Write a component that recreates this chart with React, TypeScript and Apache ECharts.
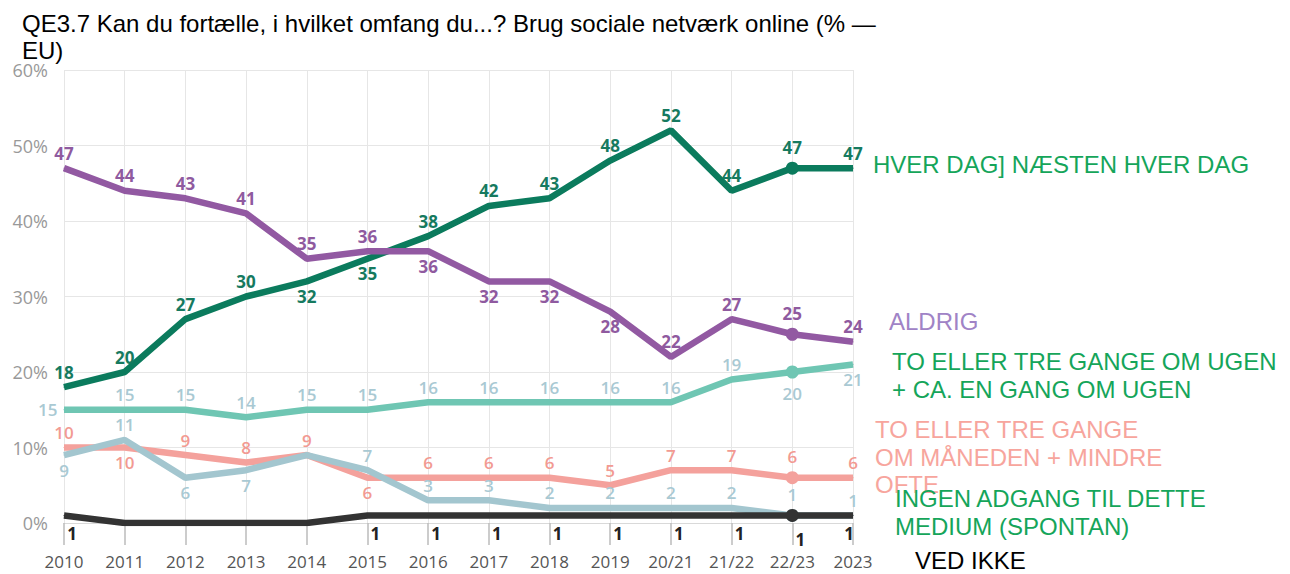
import React, { useEffect, useRef } from "react";
import * as echarts from "echarts";

const categories = ["2010", "2011", "2012", "2013", "2014", "2015", "2016", "2017", "2018", "2019", "20/21", "21/22", "22/23", "2023"];

const hverDag = [18, 20, 27, 30, 32, 35, 38, 42, 43, 48, 52, 44, 47, 47];
const hverDagPos = ["t", "t", "t", "t", "b", "b", "t", "t", "t", "t", "t", "t", "t", "t"];

const aldrig = [47, 44, 43, 41, 35, 36, 36, 32, 32, 28, 22, 27, 25, 24];
const aldrigPos = ["t", "t", "t", "t", "t", "t", "b", "b", "b", "b", "t", "t", "t", "t"];

const ugen = [15, 15, 15, 14, 15, 15, 16, 16, 16, 16, 16, 19, 20, 21];
const ugenPos = ["l", "t", "t", "t", "t", "t", "t", "t", "t", "t", "t", "t", "b", "b"];

const maaned = [10, 10, 9, 8, 9, 6, 6, 6, 6, 5, 7, 7, 6, 6];
const maanedPos = ["t", "b", "t", "t", "t", "b", "t", "t", "t", "t", "t", "t", "t", "t"];

const ingenAdgang = [9, 11, 6, 7, 9, 7, 3, 3, 2, 2, 2, 2, 1, 1];
const ingenPos = ["b", "t", "b", "b", "h", "t", "t", "t", "t", "t", "t", "t", "t", "t"];

const vedIkke = [1, 0, 0, 0, 0, 1, 1, 1, 1, 1, 1, 1, 1, 1];
const vedIkkePos = ["r", "h", "h", "h", "h", "r", "r", "r", "r", "r", "r", "r", "r", "r"];

const titleLines = ["QE3.7 Kan du fortælle, i hvilket omfang du...? Brug sociale netværk online (% —", "EU)"];

const MARK_INDEX = 12;

function buildData(values: number[], pos: string[], markSize: number) {
  return values.map((v, i) => {
    const p = pos[i];
    const label: any = {};
    if (p === "h") label.show = false;
    else if (p === "t") label.position = "top";
    else if (p === "b") label.position = "bottom";
    else if (p === "l") label.position = "left";
    else if (p === "r") {
      label.position = "bottom";
      label.offset = [i === values.length - 1 ? -4 : 8, 3];
    }
    return {
      value: v,
      symbol: "circle",
      symbolSize: i === MARK_INDEX ? markSize : 1,
      label,
    };
  });
}

function lineSeries(name: string, values: number[], pos: string[], color: string, labelColor: string, weight: any, z: number) {
  return {
    name,
    type: "line",
    z,
    data: buildData(values, pos, 13),
    showSymbol: true,
    showAllSymbol: true,
    symbol: "circle",
    lineStyle: { color, width: 6.5 },
    itemStyle: { color },
    label: {
      show: true,
      color: labelColor,
      fontFamily: "Open Sans",
      fontSize: 17,
      fontWeight: weight,
      distance: 6,
    },
  };
}

export default function App() {
  const ref = useRef<HTMLDivElement>(null);
  useEffect(() => {
    if (!ref.current) return;
    const chart = echarts.init(ref.current, null, { renderer: "svg" });
    const font = "'Liberation Sans', Arial, sans-serif";
    const option: any = {
      animation: false,
      backgroundColor: "#ffffff",
      grid: { left: 64, right: 437, top: 70, bottom: 51, containLabel: false },
      xAxis: {
        type: "category",
        data: categories,
        boundaryGap: false,
        axisLine: { show: true, lineStyle: { color: "#d9d9d9", width: 1 } },
        axisTick: { show: true, length: 22, lineStyle: { color: "#bbbbbb", width: 1.5 } },
        axisLabel: { color: "#555555", fontFamily: "Open Sans", fontSize: 17, margin: 30 },
        splitLine: { show: true, lineStyle: { color: "#e6e6e6", width: 1 } },
      },
      yAxis: {
        type: "value",
        min: 0,
        max: 60,
        interval: 10,
        axisLine: { show: false },
        axisTick: { show: false },
        axisLabel: { formatter: "{value}%", color: "#999999", fontFamily: "Open Sans", fontSize: 18, margin: 16 },
        splitLine: { show: true, lineStyle: { color: "#e6e6e6", width: 1 } },
      },
      series: [
        lineSeries("TO ELLER TRE GANGE OM UGEN + CA. EN GANG OM UGEN", ugen, ugenPos, "#6fc6b3", "#a9c9d3", 600, 2),
        lineSeries("TO ELLER TRE GANGE OM MÅNEDEN + MINDRE OFTE", maaned, maanedPos, "#f4a19c", "#f29a92", 600, 3),
        lineSeries("INGEN ADGANG TIL DETTE MEDIUM (SPONTAN)", ingenAdgang, ingenPos, "#a3c6cf", "#a9c9d3", 600, 4),
        lineSeries("HVER DAG] NÆSTEN HVER DAG", hverDag, hverDagPos, "#0b7b5d", "#167a5f", "bold", 5),
        lineSeries("ALDRIG", aldrig, aldrigPos, "#9259a2", "#8f5a9f", "bold", 6),
        lineSeries("VED IKKE", vedIkke, vedIkkePos, "#333333", "#222222", "bold", 7),
      ],
      graphic: [
        {
          type: "text",
          left: 22,
          top: 10,
          style: { text: titleLines.join("\n"), font: `24px ${font}`, fill: "#000000", lineHeight: 27 },
        },
        {
          type: "text",
          x: 873,
          y: 164,
          style: { text: "HVER DAG] NÆSTEN HVER DAG", font: `24px ${font}`, fill: "#15a55a", verticalAlign: "middle" },
        },
        {
          type: "text",
          x: 889,
          y: 321,
          style: { text: "ALDRIG", font: `24px ${font}`, fill: "#a083c6", verticalAlign: "middle" },
        },
        {
          type: "text",
          x: 892,
          y: 347,
          style: { text: "TO ELLER TRE GANGE OM UGEN\n+ CA. EN GANG OM UGEN", font: `24px ${font}`, fill: "#15a55a", verticalAlign: "top", lineHeight: 28 },
        },
        {
          type: "text",
          x: 875,
          y: 416,
          style: { text: "TO ELLER TRE GANGE\nOM MÅNEDEN + MINDRE\nOFTE", font: `24px ${font}`, fill: "#f7a59d", verticalAlign: "top", lineHeight: 27.5 },
        },
        {
          type: "text",
          x: 895,
          y: 484,
          style: { text: "INGEN ADGANG TIL DETTE\nMEDIUM (SPONTAN)", font: `24px ${font}`, fill: "#15a55a", verticalAlign: "top", lineHeight: 28 },
        },
        {
          type: "text",
          x: 915,
          y: 560,
          style: { text: "VED IKKE", font: `24px ${font}`, fill: "#000000", verticalAlign: "middle" },
        },
      ],
    };
    chart.setOption(option);
    return () => chart.dispose();
  }, []);
  return <div ref={ref} style={{ width: 1290, height: 574, position: "absolute", left: 0, top: 0 }} />;
}
